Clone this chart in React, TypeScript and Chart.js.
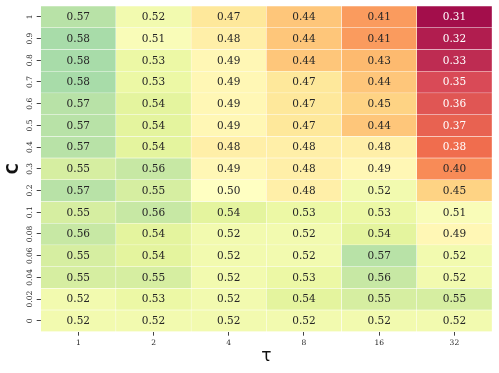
import React, { useEffect, useRef } from "react";
import { Chart, registerables } from "chart.js";

Chart.register(...registerables);

const tauLabels = ["1", "2", "4", "8", "16", "32"];
const cLabels = ["1", "0.9", "0.8", "0.7", "0.6", "0.5", "0.4", "0.3", "0.2", "0.1", "0.08", "0.06", "0.04", "0.02", "0"];

const rowC1 = [0.57, 0.52, 0.47, 0.44, 0.41, 0.31];
const rowC09 = [0.58, 0.51, 0.48, 0.44, 0.41, 0.32];
const rowC08 = [0.58, 0.53, 0.49, 0.44, 0.43, 0.33];
const rowC07 = [0.58, 0.53, 0.49, 0.47, 0.44, 0.35];
const rowC06 = [0.57, 0.54, 0.49, 0.47, 0.45, 0.36];
const rowC05 = [0.57, 0.54, 0.49, 0.47, 0.44, 0.37];
const rowC04 = [0.57, 0.54, 0.48, 0.48, 0.48, 0.38];
const rowC03 = [0.55, 0.56, 0.49, 0.48, 0.49, 0.40];
const rowC02 = [0.57, 0.55, 0.50, 0.48, 0.52, 0.45];
const rowC01 = [0.55, 0.56, 0.54, 0.53, 0.53, 0.51];
const rowC008 = [0.56, 0.54, 0.52, 0.52, 0.54, 0.49];
const rowC006 = [0.55, 0.54, 0.52, 0.52, 0.57, 0.52];
const rowC004 = [0.55, 0.55, 0.52, 0.53, 0.56, 0.52];
const rowC002 = [0.52, 0.53, 0.52, 0.54, 0.55, 0.55];
const rowC0 = [0.52, 0.52, 0.52, 0.52, 0.52, 0.52];

const values = [rowC1, rowC09, rowC08, rowC07, rowC06, rowC05, rowC04, rowC03, rowC02, rowC01, rowC008, rowC006, rowC004, rowC002, rowC0];

const SPECTRAL = ["#9e0142", "#d53e4f", "#f46d43", "#fdae61", "#fee08b", "#ffffbf", "#e6f598", "#abdda4", "#66c2a5", "#3288bd", "#5e4fa2"];
const VMIN = 0.31;
const VMAX = 0.69;
const ALPHA = 0.95;

function hexToRgb(h: string): number[] {
  return [parseInt(h.slice(1, 3), 16), parseInt(h.slice(3, 5), 16), parseInt(h.slice(5, 7), 16)];
}

function colorFor(v: number): string {
  let t = (v - VMIN) / (VMAX - VMIN);
  t = Math.max(0, Math.min(1, t));
  const pos = t * (SPECTRAL.length - 1);
  const i = Math.min(SPECTRAL.length - 2, Math.floor(pos));
  const f = pos - i;
  const a = hexToRgb(SPECTRAL[i]);
  const b = hexToRgb(SPECTRAL[i + 1]);
  const c = a.map((x, k) => Math.round((x + (b[k] - x) * f) * ALPHA + 255 * (1 - ALPHA)));
  return `rgb(${c[0]},${c[1]},${c[2]})`;
}

function textColorFor(v: number): string {
  return v <= 0.385 ? "#ffffff" : "#262626";
}

const annotatePlugin = {
  id: "annotate",
  afterDatasetsDraw(chart: any) {
    const ctx = chart.ctx;
    ctx.save();
    ctx.font = "10.5px 'DejaVu Serif'";
    ctx.textAlign = "center";
    ctx.textBaseline = "middle";
    chart.data.datasets.forEach((ds: any, i: number) => {
      const meta = chart.getDatasetMeta(i);
      meta.data.forEach((el: any, j: number) => {
        const v = values[i][j];
        ctx.fillStyle = textColorFor(v);
        ctx.fillText(v.toFixed(2), el.x, (el.y + el.base) / 2 + 0.5);
      });
    });
    ctx.restore();
  },
};

export default function App() {
  const ref = useRef<HTMLCanvasElement | null>(null);

  useEffect(() => {
    if (!ref.current) return;
    const datasets = cLabels.map((c, i) => ({
      label: c,
      data: tauLabels.map(() => [i, i + 1]),
      backgroundColor: values[i].map((v) => colorFor(v)),
      borderColor: "#ffffff",
      borderWidth: 0.5,
      borderSkipped: false,
      grouped: false,
      barPercentage: 1,
      categoryPercentage: 1,
    }));
    const tickFont = { family: "'DejaVu Serif'", size: 7.5 };
    const chart = new Chart(ref.current, {
      type: "bar",
      data: { labels: tauLabels, datasets: datasets as any },
      plugins: [annotatePlugin],
      options: {
        animation: false,
        responsive: false,
        maintainAspectRatio: false,
        layout: { padding: { top: 6, right: 7, left: 0, bottom: 0 } },
        plugins: { legend: { display: false }, tooltip: { enabled: false } },
        scales: {
          x: {
            type: "category",
            offset: true,
            grid: { offset: false, drawOnChartArea: false, tickLength: 4, tickWidth: 1, color: "#444" },
            border: { display: false },
            ticks: { font: tickFont, color: "#262626", padding: 3, maxRotation: 0, autoSkip: false },
            title: { display: true, text: "τ", font: { family: "'DejaVu Sans'", size: 17 }, color: "#111", padding: { top: 0, bottom: 6 } },
            afterFit: (s: any) => {
              s.height = 41.3;
            },
          },
          y: {
            type: "linear",
            min: 0,
            max: 15,
            reverse: true,
            afterBuildTicks: (s: any) => {
              s.ticks = cLabels.map((_, i) => ({ value: i + 0.5 }));
            },
            grid: { drawOnChartArea: false, tickLength: 4, tickWidth: 1, color: "#444" },
            border: { display: false },
            ticks: {
              font: tickFont,
              color: "#262626",
              padding: -2,
              crossAlign: "center",
              minRotation: 90,
              maxRotation: 90,
              autoSkip: false,
              callback: (v: any) => cLabels[Math.floor(Number(v))],
            },
            title: { display: true, text: "C", font: { family: "'DejaVu Sans'", size: 15, weight: "bold" }, color: "#111", padding: { top: 5, bottom: 0 } },
            afterFit: (s: any) => {
              s.width = 40.7;
            },
          },
        },
      },
    });
    return () => chart.destroy();
  }, []);

  return (
    <div style={{ position: "absolute", left: 0, top: 0, width: 499, height: 373, background: "#fff" }}>
      <canvas ref={ref} width={499} height={373} style={{ width: 499, height: 373 }} />
    </div>
  );
}
